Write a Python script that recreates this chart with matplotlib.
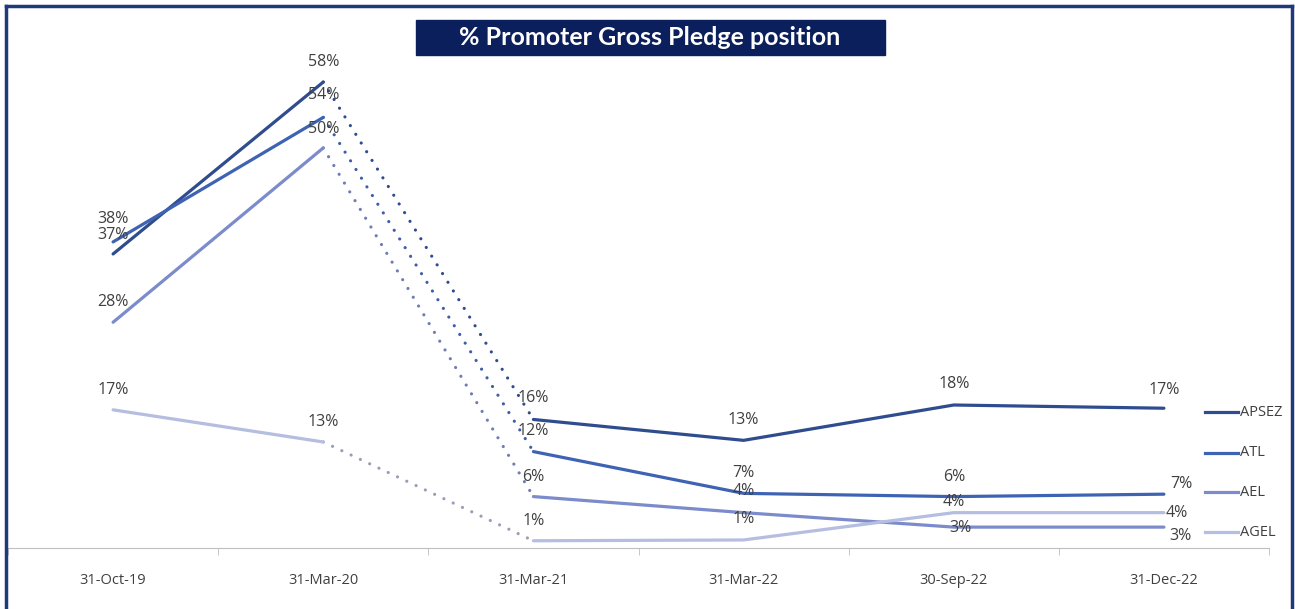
import matplotlib.pyplot as plt
from matplotlib.lines import Line2D
from matplotlib.patches import Rectangle

W, H = 1295, 609

dates = ['31-Oct-19', '31-Mar-20', '31-Mar-21', '31-Mar-22', '30-Sep-22', '31-Dec-22']
names = ['APSEZ', 'ATL', 'AEL', 'AGEL']

apsez = [0.366, 0.58, 0.16, 0.134, 0.178, 0.174]
atl = [0.381, 0.536, 0.12, 0.068, 0.064, 0.067]
ael = [0.281, 0.498, 0.064, 0.044, 0.026, 0.026]
agel = [0.172, 0.132, 0.009, 0.01, 0.044, 0.044]
series = [apsez, atl, ael, agel]

colors = ['#2F4C8E', '#3F63B3', '#7B8BCB', '#B5BDE0']
dot_colors = ['#2F4C8E', '#3F5DA8', '#6F7CB5', '#9C9CB4']

# label offsets in pixels (dx, dy) for each series / point
offsets = [
    [(0, 19), (0, 20), (0, 21), (0, 20), (0, 21), (0, 18)],
    [(0, 23), (0, 22), (0, 21), (0, 20), (0, 20), (17, 10)],
    [(0, 20), (0, 19), (0, 20), (0, 22), (7, -1), (17, -9)],
    [(0, 20), (0, 20), (0, 20), (0, 21), (0, 11), (13, 0)],
]

fig = plt.figure(figsize=(W / 100, H / 100), dpi=100)
ax = fig.add_axes([8 / W, (H - 548) / H, 1261 / W, 482 / H])

x = list(range(len(dates)))
for i, vals in enumerate(series):
    ax.plot(x[:2], vals[:2], color=colors[i], lw=2.3, solid_capstyle='round', zorder=3)
    ax.plot(x[1:3], vals[1:3], color=dot_colors[i], lw=2.3, linestyle=(0, (0.01, 3.2)),
            dash_capstyle='round', zorder=2)
    ax.plot(x[2:], vals[2:], color=colors[i], lw=2.3, solid_capstyle='round', zorder=3)
    for j, v in enumerate(vals):
        ax.annotate(f'{round(v * 100)}%', (j, v), xytext=offsets[i][j], textcoords='offset pixels',
                    ha='center', va='center', fontsize=11.5, color='#404040',
                    family='Open Sans', annotation_clip=False, zorder=4)

ax.set_xlim(-0.5, 5.5)
ax.set_ylim(0, 0.60)
for s in ['top', 'right', 'left']:
    ax.spines[s].set_visible(False)
ax.spines['bottom'].set_color('#BFBFBF')
ax.set_yticks([])
ax.set_xticks(x)
ax.set_xticklabels(dates, fontsize=10.5, color='#404040', family='Open Sans')
ax.tick_params(axis='x', which='major', length=0, pad=18)
ax.set_xticks([k - 0.5 for k in range(len(dates) + 1)], minor=True)
ax.tick_params(axis='x', which='minor', length=5, color='#BFBFBF', direction='out')

# legend
legend_y = [412, 453, 492, 532]
for i, name in enumerate(names):
    yf = 1 - legend_y[i] / H
    fig.add_artist(Line2D([1205 / W, 1238 / W], [yf, yf], color=colors[i], lw=2.3,
                          transform=fig.transFigure))
    fig.text(1240 / W, yf, name, ha='left', va='center', fontsize=10.5,
             color='#404040', family='Open Sans')

# title box
navy = '#0B1F5C'
fig.add_artist(Rectangle((416 / W, 1 - 55 / H), 469 / W, 35 / H, transform=fig.transFigure,
                         color=navy, zorder=5))
fig.text(650 / W, 1 - 37.5 / H, '% Promoter Gross Pledge position', ha='center', va='center',
         fontsize=18, color='white', fontweight='bold', family='Lato', zorder=6)

# frame
frame = '#1F3A7A'
fig.add_artist(Line2D([6 / W, 1292 / W], [1 - 6 / H, 1 - 6 / H], color=frame, lw=2.5,
                      transform=fig.transFigure))
fig.add_artist(Line2D([6 / W, 6 / W], [0, 1 - 6 / H], color=frame, lw=2.5,
                      transform=fig.transFigure))
fig.add_artist(Line2D([1292 / W, 1292 / W], [0, 1 - 6 / H], color=frame, lw=2.5,
                      transform=fig.transFigure))

fig.savefig('out.png', dpi=100)
